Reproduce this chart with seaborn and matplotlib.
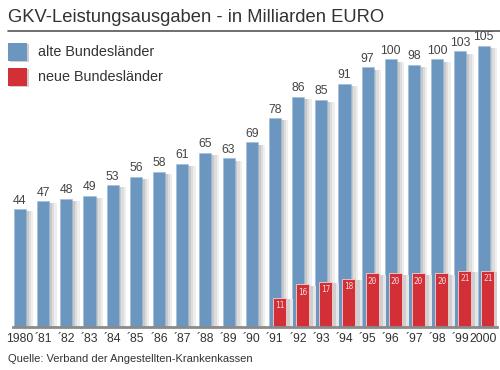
import numpy as np
import pandas as pd
import seaborn as sns
import matplotlib.pyplot as plt
from matplotlib.patches import Rectangle

sns.set_style("white")
plt.rcParams['font.family'] = ['Liberation Sans', 'DejaVu Sans']

# values (Mrd. EURO)
years = ["1980", "´81", "´82", "´83", "´84", "´85", "´86", "´87", "´88", "´89", "´90",
         "´91", "´92", "´93", "´94", "´95", "´96", "´97", "´98", "´99", "2000"]
alte = [44, 47, 48, 49, 53, 56, 58, 61, 65, 63, 69,
        78, 86, 85, 91, 97, 100, 98, 100, 103, 105]
neue_years = ["´91", "´92", "´93", "´94", "´95", "´96", "´97", "´98", "´99", "2000"]
neue = [11, 16, 17, 18, 20, 20, 20, 20, 21, 21]

blue = "#6a96c0"
red = "#d22f37"

df = pd.DataFrame({"jahr": years, "alte": alte})

fig = plt.figure(figsize=(5, 3.7), dpi=100)
ax = fig.add_axes([13 / 500, 43 / 370, 484 / 500, 297 / 370])

x = np.arange(len(years))
w = 0.52

# soft shadows right of the blue bars
for off, c in [(0.32, "#eeeeee"), (0.22, "#dddddd"), (0.12, "#c8c8c8")]:
    ax.bar(x + off, np.array(alte) - 0.8, width=w, color=c, linewidth=0, zorder=1)

sns.barplot(data=df, x="jahr", y="alte", color=blue, width=w, saturation=1,
            edgecolor="#9dbbd8", linewidth=0.4, ax=ax, zorder=2)

for i, v in enumerate(alte):
    ax.text(i, v + 1.0, str(v), ha="center", va="bottom", fontsize=8.8, color="#444444")

# red bars, shifted right in front of the blue ones
xr = np.array([years.index(y) for y in neue_years]) + 0.19
for off, c in [(0.30, "#e6e6e6"), (0.18, "#cfcfcf")]:
    ax.bar(xr + off, np.array(neue) - 0.5, width=0.56, color=c, linewidth=0, zorder=3)
ax.bar(xr, neue, width=0.56, color=red, edgecolor="#f4d0d0", linewidth=0.6, zorder=4)
for xi, v in zip(xr, neue):
    ax.text(xi, v - 1.3, str(v), ha="center", va="top", fontsize=5.6,
            color="#f6dede", family="DejaVu Sans Mono", zorder=5)

ax.set_xlim(-0.30, 20.58)
ax.set_ylim(0, 111.0)
ax.set_xlabel("")
ax.set_ylabel("")
ax.set_yticks([])
ax.set_xticks(x)
ax.set_xticklabels(years, fontsize=8.8, color="#333333")
ax.tick_params(axis="x", length=0, pad=4)
for s in ["top", "right", "left"]:
    ax.spines[s].set_visible(False)
ax.spines["bottom"].set_color("#8a8a8a")
ax.spines["bottom"].set_linewidth(2)
ax.spines["bottom"].set_zorder(6)

# title with rule underneath
fig.text(8 / 500, 1 - 17 / 370, "GKV-Leistungsausgaben - in Milliarden EURO",
         fontsize=13.2, color="#333333", va="center", ha="left")
fig.add_artist(plt.Line2D([8 / 500, 500 / 500], [1 - 30.5 / 370] * 2,
                          color="#555555", linewidth=1.2))

# legend drawn as boxes with shadow
for yc, c, lab in [(52, blue, "alte Bundesländer"), (77, red, "neue Bundesländer")]:
    fig.add_artist(Rectangle((10 / 500, 1 - (yc + 10) / 370), 19 / 500, 18 / 370,
                             facecolor="#cfcfcf", linewidth=0))
    fig.add_artist(Rectangle((8 / 500, 1 - (yc + 9) / 370), 19 / 500, 18 / 370,
                             facecolor=c, linewidth=0))
    fig.text(38 / 500, 1 - yc / 370, lab, fontsize=10.4, color="#333333",
             va="center", ha="left")

fig.text(8 / 500, 1 - 359 / 370, "Quelle: Verband der Angestellten-Krankenkassen",
         fontsize=8, color="#333333", va="center", ha="left")

fig.savefig("out.png", dpi=100)
